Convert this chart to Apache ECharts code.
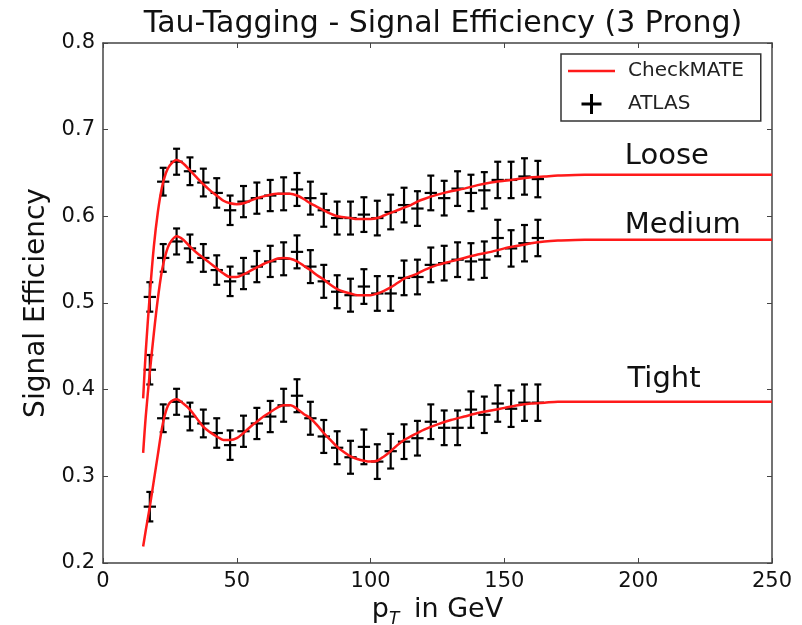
<!DOCTYPE html>
<html>
<head>
<meta charset="utf-8">
<script src="https://cdn.jsdelivr.net/npm/echarts@6/dist/echarts.min.js"></script>
<style>html,body{margin:0;padding:0;background:#fff;}#c{width:802px;height:625px;}</style>
</head>
<body>
<div id="c"></div>
<script>
// ---- data ----
const ptBins = [17.5, 22.5, 27.5, 32.5, 37.5, 42.5, 47.5, 52.5, 57.5, 62.5, 67.5, 72.5, 77.5, 82.5, 87.5, 92.5, 97.5, 102.5, 107.5, 112.5, 117.5, 122.5, 127.5, 132.5, 137.5, 142.5, 147.5, 152.5, 157.5, 162.5];
const ptHalfWidth = 2.3;
const yErr = [0.017, 0.016, 0.015, 0.016, 0.016, 0.017, 0.017, 0.018, 0.018, 0.018, 0.019, 0.019, 0.019, 0.019, 0.019, 0.019, 0.020, 0.020, 0.020, 0.020, 0.020, 0.020, 0.020, 0.020, 0.021, 0.021, 0.021, 0.021, 0.021, 0.021];
const atlasLoose = [0.507, 0.640, 0.663, 0.652, 0.639, 0.627, 0.607, 0.617, 0.621, 0.624, 0.626, 0.631, 0.621, 0.607, 0.598, 0.598, 0.602, 0.598, 0.605, 0.613, 0.609, 0.627, 0.621, 0.632, 0.627, 0.630, 0.642, 0.642, 0.646, 0.643];
const atlasMedium = [0.423, 0.552, 0.571, 0.563, 0.552, 0.538, 0.525, 0.534, 0.542, 0.548, 0.551, 0.559, 0.542, 0.525, 0.513, 0.509, 0.519, 0.511, 0.511, 0.529, 0.530, 0.544, 0.546, 0.550, 0.548, 0.550, 0.575, 0.563, 0.569, 0.575];
const atlasTight = [0.265, 0.367, 0.386, 0.369, 0.361, 0.350, 0.336, 0.352, 0.361, 0.369, 0.382, 0.393, 0.367, 0.346, 0.333, 0.322, 0.334, 0.317, 0.329, 0.340, 0.344, 0.363, 0.356, 0.356, 0.377, 0.371, 0.384, 0.378, 0.385, 0.385];

const curveX = [15, 16, 17.5, 19, 20.5, 22, 23.5, 25, 27.5, 30, 32.5, 35, 37.5, 40, 42.5, 45, 47.5, 50, 52.5, 55, 57.5, 60, 62.5, 65, 67.5, 70, 72.5, 75, 77.5, 80, 82.5, 85, 87.5, 90, 92.5, 95, 97.5, 100, 102.5, 105, 107.5, 110, 112.5, 115, 117.5, 120, 125, 130, 135, 140, 145, 150, 155, 160, 165, 170, 180, 200, 250];
const cmLoose = [0.390, 0.445, 0.510, 0.565, 0.605, 0.633, 0.650, 0.659, 0.665, 0.661, 0.653, 0.645, 0.637, 0.630, 0.624, 0.618, 0.615, 0.614, 0.615, 0.618, 0.621, 0.623, 0.625, 0.626, 0.626, 0.626, 0.624, 0.620, 0.615, 0.611, 0.607, 0.603, 0.600, 0.599, 0.598, 0.597, 0.597, 0.597, 0.598, 0.601, 0.604, 0.607, 0.610, 0.613, 0.617, 0.620, 0.625, 0.629, 0.632, 0.636, 0.639, 0.641, 0.643, 0.645, 0.646, 0.647, 0.648, 0.648, 0.648];
const cmMedium = [0.327, 0.370, 0.420, 0.465, 0.505, 0.537, 0.557, 0.569, 0.577, 0.573, 0.565, 0.558, 0.552, 0.546, 0.540, 0.534, 0.530, 0.530, 0.533, 0.537, 0.541, 0.545, 0.548, 0.551, 0.552, 0.551, 0.548, 0.543, 0.538, 0.532, 0.527, 0.521, 0.516, 0.513, 0.511, 0.509, 0.509, 0.509, 0.511, 0.514, 0.518, 0.523, 0.528, 0.531, 0.534, 0.538, 0.544, 0.548, 0.552, 0.556, 0.559, 0.563, 0.566, 0.569, 0.571, 0.572, 0.573, 0.573, 0.573];
const cmTight = [0.219, 0.238, 0.265, 0.295, 0.325, 0.355, 0.375, 0.385, 0.389, 0.384, 0.377, 0.367, 0.357, 0.351, 0.346, 0.342, 0.342, 0.344, 0.350, 0.357, 0.363, 0.369, 0.374, 0.379, 0.382, 0.382, 0.378, 0.372, 0.367, 0.359, 0.350, 0.342, 0.334, 0.328, 0.323, 0.320, 0.318, 0.317, 0.318, 0.323, 0.329, 0.336, 0.342, 0.346, 0.350, 0.354, 0.360, 0.365, 0.369, 0.373, 0.376, 0.379, 0.382, 0.384, 0.385, 0.386, 0.386, 0.386, 0.386];

const wpLabels = ['Loose', 'Medium', 'Tight'];
const wpLabelX = [195, 195, 196];
const wpLabelY = [0.669, 0.589, 0.412];

const xTicks = [0, 50, 100, 150, 200, 250];
const yTicks = [0.2, 0.3, 0.4, 0.5, 0.6, 0.7, 0.8];

// ---- chart ----
const FONT = 'DejaVu Sans';
const TXT = '#111';
const AX = '#444';
const chart = echarts.init(document.getElementById('c'), null, {renderer: 'canvas'});

function toPairs(xs, ys) { return xs.map((x, i) => [x, ys[i]]); }
function toErr(xs, ys, es) { return xs.map((x, i) => [x, ys[i], es[i]]); }

function renderErr(params, api) {
  const x = api.value(0), y = api.value(1), e = api.value(2);
  const c = api.coord([x, y]);
  const t = api.coord([x, y + e]);
  const b = api.coord([x, y - e]);
  const l = api.coord([x - ptHalfWidth, y]);
  const r = api.coord([x + ptHalfWidth, y]);
  const st = {stroke: '#000', lineWidth: 2.2};
  const cap = 3.5;
  return {
    type: 'group',
    children: [
      {type: 'line', shape: {x1: c[0], y1: t[1], x2: c[0], y2: b[1]}, style: st},
      {type: 'line', shape: {x1: c[0] - cap, y1: t[1], x2: c[0] + cap, y2: t[1]}, style: st},
      {type: 'line', shape: {x1: c[0] - cap, y1: b[1], x2: c[0] + cap, y2: b[1]}, style: st},
      {type: 'line', shape: {x1: l[0], y1: c[1], x2: r[0], y2: c[1]}, style: st}
    ]
  };
}

function errSeries(vals) {
  return {
    name: 'ATLAS', type: 'custom', renderItem: renderErr,
    itemStyle: {color: '#000'},
    encode: {x: 0, y: 1},
    data: toErr(ptBins, vals, yErr), z: 2, silent: true
  };
}
function lineSeries(vals) {
  return {
    name: 'CheckMATE', type: 'line', data: toPairs(curveX, vals),
    showSymbol: false, symbol: 'none', smooth: 0.3,
    lineStyle: {color: '#ff1a1a', width: 2.5}, itemStyle: {color: '#ff1a1a'},
    z: 3, silent: true
  };
}

const plusIcon = 'path://M8.5,0h3v8.5h8.5v3h-8.5v8.5h-3v-8.5h-8.5v-3h8.5z';
const lineIcon = 'path://M0,0h47v2.5h-47z';

const axisCommon = {
  type: 'value', min: 0, max: 250, interval: 50
};

const option = {
  backgroundColor: '#fff',
  animation: false,
  title: {
    text: 'Tau-Tagging - Signal Efficiency (3 Prong)',
    left: 438, top: 4, textAlign: 'center',
    textStyle: {fontFamily: FONT, fontSize: 30, fontWeight: 'normal', color: TXT}
  },
  legend: {
    left: 561, top: 54,
    orient: 'vertical',
    padding: [7, 17, 7, 7],
    itemWidth: 47, itemHeight: 20, itemGap: 13,
    borderColor: '#333', borderWidth: 1.5, borderRadius: 0,
    textStyle: {fontFamily: FONT, fontSize: 20, color: '#222', padding: [0, 0, 0, 8]},
    data: [{name: 'CheckMATE', icon: lineIcon, itemStyle: {color: '#ff1a1a'}}, {name: 'ATLAS', icon: plusIcon}]
  },
  grid: {left: 103, right: 30, top: 43, bottom: 62, containLabel: false, outerBoundsMode: 'none'},
  xAxis: [
    Object.assign({}, axisCommon, {
      position: 'bottom',
      name: '{p|p}{s|T}{n| in GeV}',
      nameLocation: 'middle', nameGap: 24,
      nameTextStyle: {
        fontFamily: FONT, color: TXT,
        rich: {
          p: {fontFamily: FONT, fontSize: 27, color: TXT},
          s: {fontFamily: FONT, fontSize: 17, fontStyle: 'italic', color: TXT, verticalAlign: 'bottom', lineHeight: 36, padding: [0, 6, 0, 0]},
          n: {fontFamily: FONT, fontSize: 27, color: TXT}
        }
      },
      axisLine: {show: true, onZero: false, lineStyle: {color: AX, width: 1.5}},
      axisTick: {show: true, inside: true, length: 5, lineStyle: {color: AX, width: 1}},
      axisLabel: {show: true, fontFamily: FONT, fontSize: 21, color: TXT, margin: 8,
        formatter: v => xTicks.indexOf(v) >= 0 ? String(v) : ''},
      splitLine: {show: false}
    }),
    Object.assign({}, axisCommon, {
      position: 'top',
      axisLine: {show: true, onZero: false, lineStyle: {color: AX, width: 1.5}},
      axisTick: {show: true, inside: true, length: 5, lineStyle: {color: AX, width: 1}},
      axisLabel: {show: false}, splitLine: {show: false}
    })
  ],
  yAxis: [
    {
      type: 'value', min: 0.2, max: 0.8, interval: 0.1, position: 'left',
      name: 'Signal Efficiency', nameLocation: 'middle', nameGap: 47, nameRotate: 90,
      nameTextStyle: {fontFamily: FONT, fontSize: 28, color: TXT},
      axisLine: {show: true, onZero: false, lineStyle: {color: AX, width: 1.5}},
      axisTick: {show: true, inside: true, length: 5, lineStyle: {color: AX, width: 1}},
      axisLabel: {show: true, fontFamily: FONT, fontSize: 21, color: TXT, margin: 8,
        formatter: v => {
          const f = yTicks.find(t => Math.abs(t - v) < 1e-6);
          return f !== undefined ? f.toFixed(1) : '';
        }},
      splitLine: {show: false}
    },
    {
      type: 'value', min: 0.2, max: 0.8, interval: 0.1, position: 'right',
      axisLine: {show: true, onZero: false, lineStyle: {color: AX, width: 1.5}},
      axisTick: {show: true, inside: true, length: 5, lineStyle: {color: AX, width: 1}},
      axisLabel: {show: false}, splitLine: {show: false}
    }
  ],
  series: [
    errSeries(atlasLoose),
    errSeries(atlasMedium),
    errSeries(atlasTight),
    lineSeries(cmLoose),
    lineSeries(cmMedium),
    lineSeries(cmTight),
    {
      name: 'wp', type: 'scatter', symbolSize: 0, silent: true, z: 5,
      itemStyle: {opacity: 1},
      data: wpLabels.map((n, i) => ({name: n, value: [wpLabelX[i], wpLabelY[i]]})),
      label: {
        show: true, position: [0, 0], align: 'left', verticalAlign: 'middle',
        formatter: p => p.name, opacity: 1,
        fontFamily: FONT, fontSize: 29, color: TXT
      }
    }
  ]
};
chart.setOption(option);
</script>
</body>
</html>
